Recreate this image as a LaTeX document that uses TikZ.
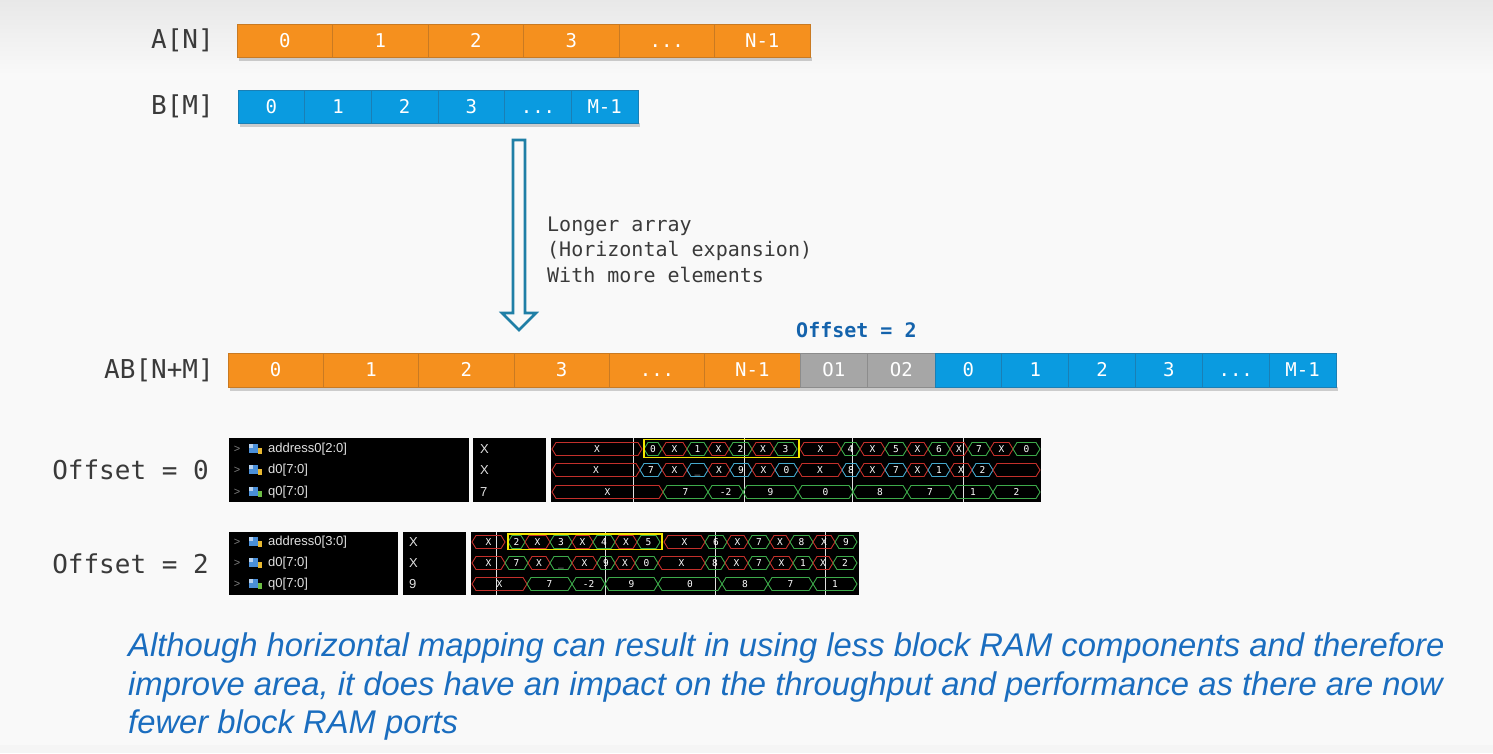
\documentclass[tikz,border=0pt]{standalone}
\usepackage{fontspec}
\setmainfont{Liberation Sans}
\setmonofont{DejaVu Sans Mono}
\definecolor{orng}{HTML}{F5901E}
\definecolor{orngd}{HTML}{C97A22}
\definecolor{blu}{HTML}{0A9BE0}
\definecolor{blud}{HTML}{1A7FB5}
\definecolor{gry}{HTML}{A6A6A6}
\definecolor{gryd}{HTML}{8C8C8C}
\definecolor{arrowc}{HTML}{1F7FA6}
\definecolor{txt}{HTML}{3A3A3A}
\definecolor{offblue}{HTML}{1463AC}
\definecolor{notec}{HTML}{1A6DBF}
\definecolor{wred}{HTML}{C4302B}
\definecolor{wgrn}{HTML}{3DAA4A}
\definecolor{wcyn}{HTML}{45A8CC}
\definecolor{wyel}{HTML}{F2E600}
\definecolor{icblue}{HTML}{4A8FD8}
\definecolor{icyel}{HTML}{E8B830}
\definecolor{icgrn}{HTML}{6DBE45}
\definecolor{bgc}{HTML}{F9F9F9}
\newcommand\mydots{...}
\newcommand\wbus[6]{%
  \draw[#4, line width=0.9pt] (#1,#3) -- ({#1+4},{#3-6.5}) -- ({#2-4},{#3-6.5}) -- (#2,#3) -- ({#2-4},{#3+6.5}) -- ({#1+4},{#3+6.5}) -- cycle;
  \node[wlab] (#6) at ({(#1+#2)/2},#3) {#5};}
\newcommand\sigicon[3]{%
  \fill[icblue] (#1,{#2-5}) rectangle ++(9,9);
  \fill[white!60!icblue] (#1,{#2-5}) rectangle ++(4,4);
  \fill[#3] ({#1+9},{#2-1}) rectangle ++(4,6);}
\begin{document}
\begin{tikzpicture}[x=1pt,y=-1pt,
  lbl/.style={font=\fontsize{26}{30}\selectfont\ttfamily, text=txt, anchor=east, inner sep=0pt},
  cell/.style={draw=#1, line width=0.8pt, minimum height=33pt, inner sep=0pt, text height=13.9pt, text depth=0pt, text=white, font=\fontsize{19}{22}\selectfont\ttfamily},
  wlab/.style={text=white, font=\fontsize{9.5}{10}\selectfont\ttfamily, inner sep=0pt, text height=7pt, text depth=0pt},
  sig/.style={text=white!88!black, font=\fontsize{13}{14}\selectfont, anchor=west, inner sep=0pt},
  chev/.style={text=gray, font=\fontsize{11}{12}\selectfont, inner sep=0pt},
  note/.style={text=notec, font=\fontsize{32.8}{38}\selectfont\itshape, anchor=base west, inner sep=0pt},
  vline/.style={white!75!gray, line width=0.7pt}]
\useasboundingbox (0,0) rectangle (1493,753);
% background
\fill[bgc] (0,0) rectangle (1493,753);
\shade[top color=black!9, bottom color=bgc] (0,0) rectangle (1493,75);
\fill[black!4] (0,745) rectangle (1493,753);

% shadows
\fill[black,opacity=0.18] (239,57) rectangle (812,61);
\fill[black,opacity=0.18] (240,123) rectangle (640,127);
\fill[black,opacity=0.18] (230,387) rectangle (1338,391);

% array A
\node[lbl] (la) at (214,40) {A[N]};
\foreach \t [count=\i from 0] in {0,1,2,3,\mydots,N-1}
  \node[cell=orngd, fill=orng, minimum width=95.5pt] (a\i) at ({284.75+95.5*\i},40.5) {\t};
% array B
\node[lbl] (lb) at (214,106) {B[M]};
\foreach \t [count=\i from 0] in {0,1,2,3,\mydots,M-1}
  \node[cell=blud, fill=blu, minimum width=66.67pt] (b\i) at ({271.33+66.67*\i},106.5) {\t};

% arrow
\coordinate (arrtop) at (519,140);
\draw[arrowc, line width=2.6pt, line join=miter] (513,140) -- (525,140) -- (525,313) -- (536,313) -- (519,330) -- (502,313) -- (513,313) -- cycle;
\node[anchor=west, align=left, inner sep=0pt, text=txt, font=\fontsize{20}{25.5}\selectfont\ttfamily] (desc) at (547,249.5) {Longer array\\(Horizontal expansion)\\With more elements};

% offset label
\node[anchor=west, inner sep=0pt, text=offblue, font=\fontsize{20}{22}\selectfont\ttfamily\bfseries] (off) at (796,330) {Offset = 2};

% array AB
\node[lbl] (lab) at (214,370) {AB[N+M]};
\foreach \t [count=\i from 0] in {0,1,2,3,\mydots,N-1}
  \node[cell=orngd, fill=orng, minimum width=95.33pt, minimum height=34pt] (ab\i) at ({275.67+95.33*\i},370) {\t};
\foreach \t [count=\i from 0] in {O1,O2}
  \node[cell=gryd, fill=gry, minimum width=67.5pt, minimum height=34pt] (abo\i) at ({833.75+67.5*\i},370) {\t};
\foreach \t [count=\i from 0] in {0,1,2,3,\mydots,M-1}
  \node[cell=blud, fill=blu, minimum width=66.83pt, minimum height=34pt] (abb\i) at ({968.42+66.83*\i},370) {\t};

% ---------- waveform, offset 0 ----------
\node[lbl] (lo0) at (209,470) {Offset = 0};
\fill[black] (229,438) rectangle (469,502);
\fill[black] (473,438) rectangle (546,502);
\fill[black] (551,438) rectangle (1041,502);
\foreach \n/\y/\c [count=\i] in {{address0[2:0]}/449/icyel, {d0[7:0]}/470/icyel, {q0[7:0]}/492/icgrn}{
  \node[chev] (pac\i) at (237,\y) {>};
  \sigicon{249}{\y}{\c}
  \node[sig] (pan\i) at (268,\y) {\n};}
\foreach \v/\y [count=\i] in {X/449, X/470, 7/492}
  \node[sig] (pav\i) at (480,\y) {\v};
\foreach \x in {633,744,852,963} \draw[vline] (\x,438) -- (\x,502);
\foreach \a/\b/\c/\t [count=\i] in {552/642/wred/X, 644/662/wgrn/0, 662/687/wred/X, 687/708/wgrn/1, 708/729/wred/X, 729/752/wgrn/2, 752/774/wred/X, 774/797/wgrn/3, 800/841/wred/X, 841/860/wgrn/4, 860/885/wred/X, 885/907/wgrn/5, 907/928/wred/X, 928/950/wgrn/6, 950/968/wred/X, 968/990/wgrn/7, 990/1013/wred/X, 1013/1040/wgrn/0}
  {\wbus{\a}{\b}{449}{\c}{\t}{pa1n\i}}
\foreach \a/\b/\c/\t [count=\i] in {552/640/wred/X, 640/662/wcyn/7, 662/687/wred/X, 687/708/wcyn/\_, 708/730/wred/X, 730/752/wcyn/9, 752/775/wred/X, 775/798/wcyn/0, 798/842/wred/X, 842/860/wcyn/8, 860/885/wred/X, 885/907/wcyn/7, 907/928/wred/X, 928/950/wcyn/1, 950/972/wred/X, 972/993/wcyn/2, 993/1040/wred/{}}
  {\wbus{\a}{\b}{470}{\c}{\t}{pa2n\i}}
\foreach \a/\b/\c/\t [count=\i] in {552/663/wred/X, 663/708/wgrn/7, 708/743/wgrn/-2, 743/798/wgrn/9, 798/853/wgrn/0, 853/907/wgrn/8, 907/953/wgrn/7, 953/993/wgrn/1, 993/1040/wgrn/2}
  {\wbus{\a}{\b}{492}{\c}{\t}{pa3n\i}}
\draw[wyel, line width=1.8pt] (644,439.5) rectangle (799,457.5);

% ---------- waveform, offset 2 ----------
\node[lbl] (lo2) at (209,564) {Offset = 2};
\fill[black] (229,532) rectangle (398,595);
\fill[black] (403,532) rectangle (466,595);
\fill[black] (471,532) rectangle (859,595);
\foreach \n/\y/\c [count=\i] in {{address0[3:0]}/542/icyel, {d0[7:0]}/563/icyel, {q0[7:0]}/584/icgrn}{
  \node[chev] (pbc\i) at (237,\y) {>};
  \sigicon{249}{\y}{\c}
  \node[sig] (pbn\i) at (268,\y) {\n};}
\foreach \v/\y [count=\i] in {X/542, X/563, 9/584}
  \node[sig] (pbv\i) at (409,\y) {\v};
\foreach \x in {496,605,715,825} \draw[vline] (\x,532) -- (\x,595);
\foreach \a/\b/\c/\t [count=\i] in {472/505/wred/X, 508/525/wgrn/2, 525/550/wred/X, 550/572/wgrn/3, 572/593/wred/X, 593/615/wgrn/4, 615/637/wred/X, 637/660/wgrn/5, 664/705/wred/X, 705/727/wgrn/6, 727/748/wred/X, 748/770/wgrn/7, 770/790/wred/X, 790/813/wgrn/8, 813/835/wred/X, 835/857/wgrn/9}
  {\wbus{\a}{\b}{542}{\c}{\t}{pb1n\i}}
\foreach \a/\b/\c/\t [count=\i] in {472/505/wred/X, 505/528/wgrn/7, 528/550/wred/X, 550/572/wgrn/\_, 572/597/wred/X, 597/615/wgrn/9, 615/635/wred/X, 635/658/wgrn/0, 658/705/wred/X, 705/725/wgrn/8, 725/748/wred/X, 748/770/wgrn/7, 770/793/wred/X, 793/813/wgrn/1, 813/833/wred/X, 833/857/wgrn/2}
  {\wbus{\a}{\b}{563}{\c}{\t}{pb2n\i}}
\foreach \a/\b/\c/\t [count=\i] in {472/527/wred/X, 527/572/wgrn/7, 572/605/wgrn/-2, 605/658/wgrn/9, 658/722/wgrn/0, 722/768/wgrn/8, 768/813/wgrn/7, 813/857/wgrn/1}
  {\wbus{\a}{\b}{584}{\c}{\t}{pb3n\i}}
\draw[wyel, line width=1.8pt] (508,534) rectangle (662,549.5);

% note
\node[note] (note1) at (128,656) {Although horizontal mapping can result in using less block RAM components and therefore};
\node[note] (note2) at (128,695) {improve area, it does have an impact on the throughput and performance as there are now};
\node[note] (note3) at (128,733) {fewer block RAM ports};
\end{tikzpicture}
\end{document}
